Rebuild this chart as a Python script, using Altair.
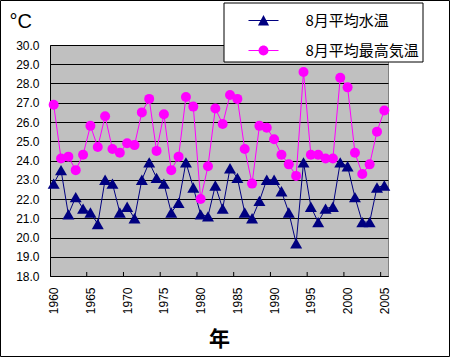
import altair as alt
import pandas as pd

years = list(range(1960, 2006))
water_temp = [22.8, 23.5, 21.2, 22.1, 21.5, 21.3, 20.7, 23.0, 22.8, 21.3,
              21.6, 21.0, 23.0, 23.9, 23.1, 22.8, 21.3, 21.8, 23.9, 22.6,
              21.2, 21.1, 22.7, 21.5, 23.6, 23.1, 21.3, 21.0, 21.9, 23.0,
              23.0, 22.4, 21.3, 19.7, 23.9, 21.6, 20.8, 21.5, 21.6, 23.9,
              23.7, 22.1, 20.8, 20.8, 22.6, 22.7]
max_air_temp = [26.9, 24.1, 24.2, 23.5, 24.3, 25.8, 24.7, 26.3, 24.6, 24.4,
                24.9, 24.8, 26.5, 27.2, 24.5, 26.4, 23.5, 24.2, 27.3, 26.8,
                22.0, 23.7, 26.7, 25.9, 27.4, 27.2, 24.6, 22.8, 25.8, 25.7,
                25.1, 24.3, 23.8, 23.2, 28.6, 24.3, 24.3, 24.1, 24.1, 28.3,
                27.8, 24.4, 23.3, 23.8, 25.5, 26.6]
series_names = ["8月平均水温", "8月平均最高気温"]
series_colors = ["#000080", "#FF00FF"]
label_years = list(range(1960, 2006, 5))
tick_bounds = [y - 0.5 for y in range(1965, 2006, 5)]
y_ticks = list(range(18, 31))

df = pd.DataFrame({
    "year": years * 2,
    "value": water_temp + max_air_temp,
    "series": [series_names[0]] * len(years) + [series_names[1]] * len(years),
})
df_ticks = pd.DataFrame({"year": tick_bounds})

x_scale = alt.Scale(domain=[1959.5, 2005.5], nice=False, zero=False)
y_scale = alt.Scale(domain=[18, 30], nice=False, zero=False)
color_scale = alt.Scale(domain=series_names, range=series_colors)

x_axis = alt.Axis(values=label_years, format="d", labelAngle=-90, ticks=False, tickSize=0,
                  grid=False, labelPadding=11, labelFont="Liberation Sans", labelFontSize=12,
                  labelColor="black", domainColor="black", domainWidth=1, labelOverlap=False,
                  title="年", titleFont="Noto Sans CJK JP", titleFontSize=21,
                  titleFontWeight="bold", titlePadding=15, titleColor="black")
y_axis = alt.Axis(values=y_ticks, format=".1f", ticks=False, tickSize=0, grid=True,
                  gridColor="black", gridWidth=1, gridOpacity=1, labelPadding=11,
                  labelFont="Liberation Sans", labelFontSize=12, labelColor="black",
                  domainColor="black", domainWidth=1, labelOverlap=False,
                  title="°C", titleAngle=0, titleAlign="left", titleBaseline="alphabetic",
                  titleX=-41, titleY=-18, titleFont="Liberation Sans", titleFontSize=20,
                  titleFontWeight="normal", titleColor="black")

X = alt.X("year:Q", scale=x_scale, axis=x_axis)
Y = alt.Y("value:Q", scale=y_scale, axis=y_axis)

base = alt.Chart(df).encode(x=X, y=Y)
water = base.transform_filter(alt.datum.series == series_names[0])
air = base.transform_filter(alt.datum.series == series_names[1])

water_line = water.mark_line(strokeWidth=1, color=series_colors[0])
water_pts = water.mark_point(shape="triangle-up", filled=True, size=144, opacity=1,
                             color=series_colors[0])
air_line = air.mark_line(strokeWidth=1, color=series_colors[1])
air_pts = air.mark_point(shape="circle", filled=True, size=100, opacity=1,
                         color=series_colors[1])

ticks = alt.Chart(df_ticks).mark_rule(color="black", strokeWidth=1).encode(
    x=X, y=alt.value(231), y2=alt.value(227))

tri_path = "M-1,-0.035H1V0.035H-1Z M0,-0.37L0.37,0.33L-0.37,0.33Z"
cir_path = ("M-1,-0.035H1V0.035H-1Z M-0.33,0A0.33,0.33 0 1,1 0.33,0"
            "A0.33,0.33 0 1,1 -0.33,0Z")

leg = dict(orient="none", legendX=173.5, legendY=-42.5, title=None)
legend_layer = base.transform_filter(alt.datum.year < 0).mark_point(
    filled=True, opacity=1, strokeWidth=0).encode(
    color=alt.Color("series:N", scale=color_scale, legend=alt.Legend(**leg)),
    shape=alt.Shape("series:N", scale=alt.Scale(domain=series_names, range=[tri_path, cir_path]),
                    legend=alt.Legend(**leg)),
)

frame = alt.Chart(pd.DataFrame({"k": [0]})).mark_rect(
    filled=False, color="black", strokeWidth=1).encode(
    x=alt.value(-49.5), x2=alt.value(399.5), y=alt.value(-44.5), y2=alt.value(311.5))

chart = alt.layer(frame, water_line, water_pts, air_line, air_pts, ticks, legend_layer).properties(
    width=338, height=231,
    autosize=alt.AutoSizeParams(type="none"),
    padding={"left": 50, "top": 45, "right": 62, "bottom": 81},
    background="white",
).configure_view(
    fill="#C0C0C0", stroke="#808080", strokeWidth=1
).configure_legend(
    symbolSize=900, symbolStrokeWidth=0, symbolOffset=22, labelOffset=27, padding=3,
    rowPadding=7, labelFont="Noto Sans CJK JP", labelFontSize=15, labelColor="black",
    fillColor="white", strokeColor="black", strokeWidth=1, cornerRadius=0, symbolOpacity=1,
)

chart.save("out.html", embed_options={"renderer": "svg", "actions": False})
